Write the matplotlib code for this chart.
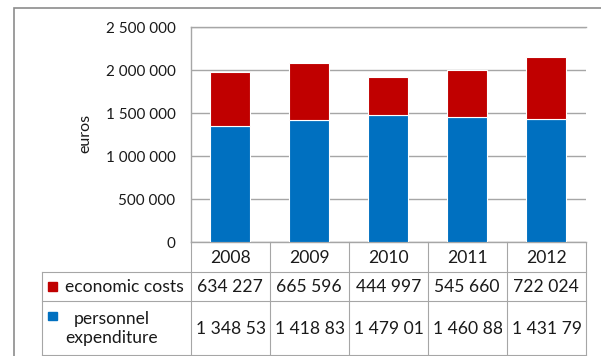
import matplotlib
matplotlib.use("Agg")
import matplotlib.pyplot as plt
from matplotlib.patches import Rectangle
from matplotlib.transforms import Bbox

# ---- data ----
years = ["2008", "2009", "2010", "2011", "2012"]
economic_costs = [634227, 665596, 444997, 545660, 722024]
personnel_expenditure = [1348530, 1418830, 1479010, 1460880, 1431790]
series_labels = ["economic costs", "personnel\nexpenditure"]
y_ticks = [0, 500000, 1000000, 1500000, 2000000, 2500000]

BLUE = "#0070C0"
RED = "#C00000"
GRID = "#a6a6a6"
FRAME = "#8c8c8c"
TXT = "#1a1a1a"

plt.rcParams["font.family"] = ["Lato", "DejaVu Sans"]

W, H = 601, 356
fig = plt.figure(figsize=(W / 100, H / 100), dpi=100)


def fmt(v):
    return f"{v:,}".replace(",", " ")


# layout in pixels
plot_l, plot_r, plot_t, plot_b = 190.7, 585.7, 27.3, 242.3
tab_l = 41.7
row_lines = [242.3, 271.7, 301.0, 355.0]

ax = fig.add_axes([plot_l / W, 1 - plot_b / H,
                   (plot_r - plot_l) / W, (plot_b - plot_t) / H])
x = list(range(len(years)))
ax.bar(x, personnel_expenditure, width=0.5, color=BLUE,
       edgecolor="white", linewidth=0.8, zorder=3)
ax.bar(x, economic_costs, width=0.5, bottom=personnel_expenditure,
       color=RED, edgecolor="white", linewidth=0.8, zorder=3)
ax.set_xlim(-0.5, len(years) - 0.5)
ax.set_ylim(0, 2500000)
ax.set_yticks(y_ticks)
ax.set_yticklabels([fmt(v) for v in y_ticks], fontsize=11, color=TXT)
ax.set_xticks([])
ax.tick_params(axis="y", length=0, pad=11)
ax.yaxis.grid(True, color=GRID, linewidth=1)
ax.set_axisbelow(True)
for side in ["top", "left", "bottom"]:
    ax.spines[side].set_color(GRID)
    ax.spines[side].set_linewidth(1)
ax.spines["right"].set_visible(False)

fig.text(85 / W, 1 - 133 / H, "euros", rotation=90, ha="center",
         va="center", fontsize=11.5, color=TXT)

# overlay in pixel coordinates for the data table and outer frame
ov = fig.add_axes([0, 0, 1, 1])
ov.set_xlim(0, W)
ov.set_ylim(H, 0)
ov.axis("off")

# outer chart frame
ov.plot([14, 14, W + 5], [H + 5, 8.3, 8.3], color=FRAME, lw=1.2,
        solid_joinstyle="miter", clip_on=False)

col_w = (plot_r - plot_l) / len(years)
col_edges = [plot_l + i * col_w for i in range(len(years) + 1)]

# table grid
for yl in row_lines[1:]:
    ov.plot([tab_l, plot_r], [yl, yl], color=GRID, lw=0.8)
ov.plot([tab_l, tab_l], [row_lines[1], row_lines[3]], color=GRID, lw=0.8)
for xe in col_edges:
    ov.plot([xe, xe], [row_lines[0], row_lines[3]], color=GRID, lw=0.8)

fs = 12.6
# header row
for i, yr in enumerate(years):
    cx = (col_edges[i] + col_edges[i + 1]) / 2
    ov.text(cx, (row_lines[0] + row_lines[1]) / 2 + 1, yr, ha="center",
            va="center", fontsize=fs, color=TXT)

# legend keys and series names
ov.add_patch(Rectangle((48.3, 281.7), 8.6, 9.4, color=RED))
ov.add_patch(Rectangle((48.3, 311.7), 8.6, 8.6, color=BLUE))
ov.text(65, (row_lines[1] + row_lines[2]) / 2 + 1, series_labels[0],
        ha="left", va="center", fontsize=fs, color=TXT)
ov.text(112, (row_lines[2] + row_lines[3]) / 2 + 0.5, series_labels[1],
        ha="center", va="center", fontsize=fs, color=TXT,
        multialignment="center", linespacing=1.3)

# values, each kept inside its cell
for r, series in enumerate([economic_costs, personnel_expenditure]):
    y0, y1 = row_lines[r + 1], row_lines[r + 2]
    cy = (y0 + y1) / 2 + (1 if r == 0 else 0.5)
    for i, v in enumerate(series):
        c0, c1 = col_edges[i], col_edges[i + 1]
        s = fmt(v)
        if r == 0:
            ov.text((c0 + c1) / 2, cy, s, ha="center", va="center",
                    fontsize=fs, color=TXT)
            continue
        t = ov.text(c0 + 5.5, cy, s, ha="left", va="center",
                    fontsize=fs, color=TXT, clip_on=True)
        disp = ov.transData.transform([[c0 + 1, y0], [c1 - 5, y1]])
        t.set_clip_box(Bbox.from_extents(disp[0, 0], disp[1, 1],
                                         disp[1, 0], disp[0, 1]))

fig.savefig("out.png", dpi=100)
